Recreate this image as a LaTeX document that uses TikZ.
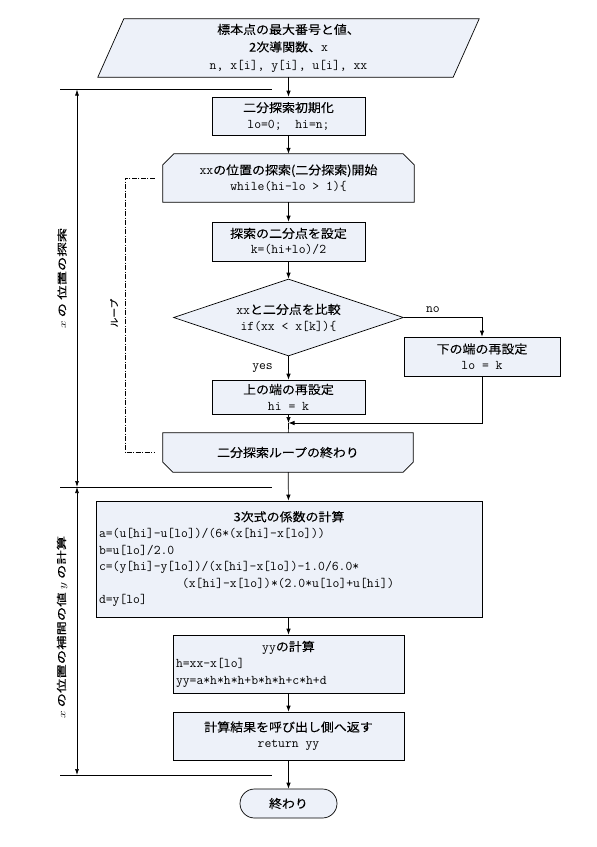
\documentclass[tikz,border=0pt]{standalone}
\usepackage{fontspec}
\setmainfont{Noto Sans CJK JP}[FakeStretch=1.08,FakeBold=0.12]
\usetikzlibrary{arrows.meta,shapes.geometric}
\pgfdeclarelayer{bg}
\pgfsetlayers{bg,main}
\definecolor{boxfill}{RGB}{237,241,249}
\newcommand\cd[1]{{\fontsize{13.3}{16}\selectfont\ttfamily #1}}
\begin{document}
\begin{tikzpicture}[x=1pt,y=-1pt,
  every node/.style={font=\fontsize{12}{16}\selectfont},
  box/.style={draw, fill=boxfill, line width=0.7pt, align=center, inner sep=2pt},
  ghost/.style={align=center, inner sep=2pt},
  shp/.style={draw, fill=boxfill, line width=0.7pt},
  ln/.style={line width=0.7pt},
  arr/.style={ln, -{Latex[length=6pt,width=4.5pt]}},
  dim/.style={ln, {Latex[length=6pt,width=4pt]}-{Latex[length=6pt,width=4pt]}},
  loopln/.style={line width=0.6pt, dash pattern=on 5pt off 1.5pt on 1pt off 1.5pt},
  lab/.style={rotate=90, xscale=1.33, font=\fontsize{10}{12}\selectfont}
]
\useasboundingbox (0,0) rectangle (597,847);

% nodes
\node[ghost, minimum width=355pt, minimum height=58pt, font=\fontsize{12}{17.5}\selectfont] (inp) at (288.5,48)
  {標本点の最大番号と値、\\2次導関数、\cd{x}\\\cd{n, x[i], y[i], u[i], xx}};
\node[box, minimum width=153pt, minimum height=38pt] (init) at (288.5,116)
  {二分探索初期化\\\cd{lo=0;\ \ hi=n;}};
\node[ghost, minimum width=251pt, minimum height=48pt] (ls) at (288.5,178)
  {\cd{xx}の位置の探索(二分探索)開始\\\cd{while(hi-lo > 1)\{}};
\node[box, minimum width=153pt, minimum height=39pt] (set) at (288.5,241.5)
  {探索の二分点を設定\\\cd{k=(hi+lo)/2}};
\node[diamond, aspect=3, draw, fill=boxfill, line width=0.7pt, inner sep=0pt,
  minimum width=230pt, minimum height=77pt, align=center] (dia) at (288.5,317.5)
  {\cd{xx}と二分点を比較\\\cd{if(xx < x[k])\{}};
\node[box, minimum width=153pt, minimum height=34pt] (upper) at (288.5,397)
  {上の端の再設定\\\cd{hi = k}};
\node[box, minimum width=156pt, minimum height=39pt] (lower) at (482,356.5)
  {下の端の再設定\\\cd{lo = k}};
\node[ghost, minimum width=250pt, minimum height=39pt] (le) at (288,452.5)
  {二分探索ループの終わり};
\node[box, minimum width=386pt, minimum height=116pt, text width=380pt, align=left,
  font=\fontsize{12}{16.5}\selectfont] (coef) at (289,559)
  {\makebox[380pt]{3次式の係数の計算}\\
   \cd{a=(u[hi]-u[lo])/(6*(x[hi]-x[lo]))}\\
   \cd{b=u[lo]/2.0}\\
   \cd{c=(y[hi]-y[lo])/(x[hi]-x[lo])-1.0/6.0*}\\
   \hspace*{83pt}\cd{(x[hi]-x[lo])*(2.0*u[lo]+u[hi])}\\
   \cd{d=y[lo]}};
\node[box, minimum width=231pt, minimum height=58pt, text width=225pt, align=left,
  font=\fontsize{12}{16.5}\selectfont] (yy) at (288.5,664)
  {\makebox[225pt]{\cd{yy}の計算}\\
   \cd{h=xx-x[lo]}\\
   \cd{yy=a*h*h*h+b*h*h+c*h+d}};
\node[box, minimum width=231pt, minimum height=48pt] (ret) at (288.5,736)
  {計算結果を呼び出し側へ返す\\\cd{return yy}};
\node[box, rounded corners=14.5pt, minimum width=97pt, minimum height=29pt] (end) at (288.5,803.5)
  {終わり};

% background shapes
\begin{pgfonlayer}{bg}
\draw[shp] ([xshift=-13pt]inp.south west) -- ([xshift=13pt]inp.north west)
  -- ([xshift=13pt]inp.north east) -- ([xshift=-13pt]inp.south east) -- cycle;
\draw[shp] (ls.south west) -- ([yshift=-11pt]ls.north west) -- ([xshift=11pt]ls.north west)
  -- ([xshift=-11pt]ls.north east) -- ([yshift=-11pt]ls.north east) -- (ls.south east) -- cycle;
\draw[shp] (le.north west) -- ([yshift=10pt]le.south west) -- ([xshift=10pt]le.south west)
  -- ([xshift=-10pt]le.south east) -- ([yshift=10pt]le.south east) -- (le.north east) -- cycle;
\end{pgfonlayer}

% connectors
\draw[arr] (inp.south) -- (init.north);
\draw[arr] (init) -- (ls);
\draw[arr] (ls) -- (set);
\draw[arr] (set) -- (dia);
\draw[arr] (dia) -- node[left=12pt]{\cd{yes}} (upper);
\draw[arr] (dia.east) -| node[pos=0.25, above=1pt, xshift=-10pt]{\cd{no}} (lower.north);
\coordinate (m) at (288.5,423);
\draw[arr] (upper) -- (m);
\draw[arr] (lower.south) |- (m);
\draw[ln] (m) -- (le);
\draw[arr] (le) -- (coef);
\draw[arr] (coef.south -| yy.north) -- (yy);
\draw[arr] (yy) -- (ret);
\draw[arr] (ret) -- (end);

% loop bracket
\coordinate (lp) at (125,300);
\draw[loopln] ([xshift=-8pt]ls.west) -| (lp) |- ([xshift=-8pt]le.west);
\node[rotate=90, font=\fontsize{9}{10}\selectfont] (loopl) at (114,313) {ループ};

% dimension lines
\coordinate (t1l) at (60,89.5); \coordinate (t1r) at (272,89.5);
\coordinate (t2l) at (60,487);  \coordinate (t2r) at (272,487);
\coordinate (t3l) at (60,775);  \coordinate (t3r) at (272,775);
\draw[ln] (t1l) -- (t1r);
\draw[ln] (t2l) -- (t2r);
\draw[ln] (t3l) -- (t3r);
\coordinate (d1) at (77,89.5);
\coordinate (d2) at (77,487);
\coordinate (d3) at (77,775);
\draw[dim] (d1) -- (d2);
\draw[dim] (d2) -- (d3);
\node[lab] (lab1) at (62,278) {$x$ の 位置の探索};
\node[lab] (lab2) at (62,627) {$x$ の位置の補間の値 $y$ の計算};
\end{tikzpicture}
\end{document}
